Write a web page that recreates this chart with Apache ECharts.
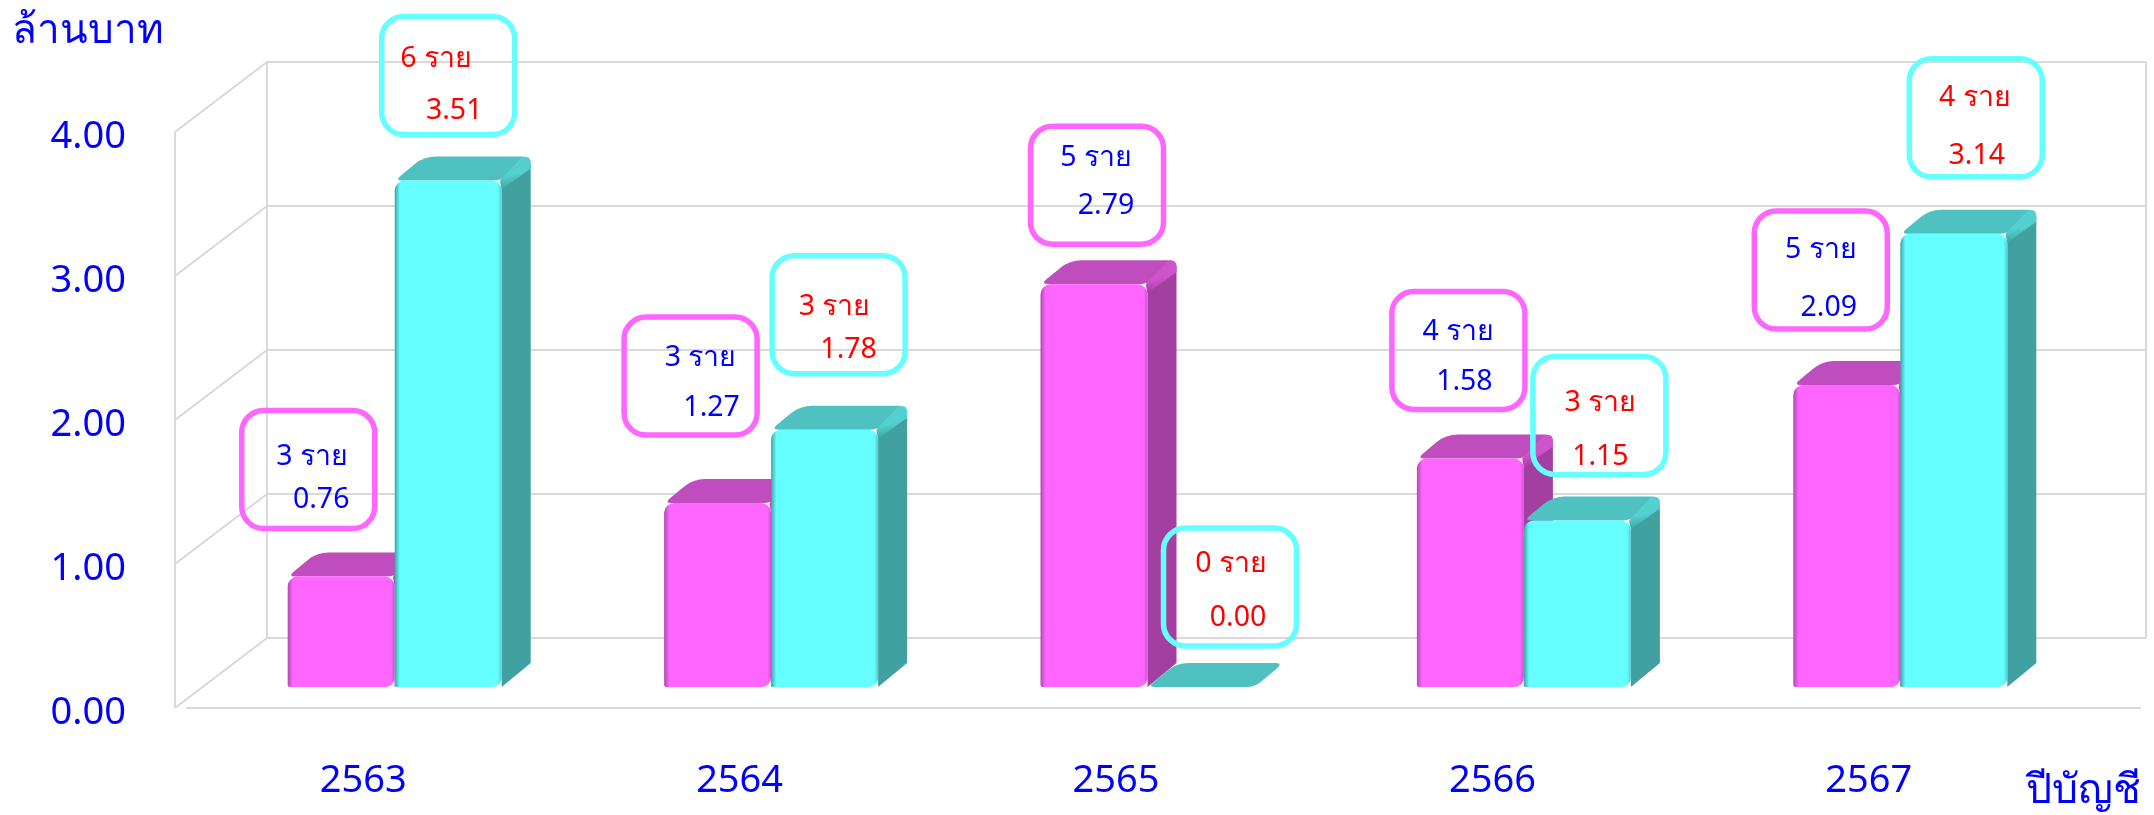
<!DOCTYPE html>
<html>
<head>
<meta charset="utf-8">
<style>html,body{margin:0;padding:0;background:#fff}#c{width:2154px;height:815px}</style>
<script src="https://cdn.jsdelivr.net/npm/echarts@6/dist/echarts.min.js"></script>
</head>
<body>
<div id="c"></div>
<script>
const years = ['2563','2564','2565','2566','2567'];
const pinkValues = [0.76,1.27,2.79,1.58,2.09];
const cyanValues = [3.51,1.78,0.00,1.15,3.14];
const pinkCounts = [3,3,5,4,5];
const cyanCounts = [6,3,0,3,4];
const ticks = [0,1,2,3,4];
const unitTitle = 'ล้านบาท';
const yearTitle = 'ปีบัญชี';

// layout of the hand-placed callouts, relative to the value's position on the axes
const pinkBox = [[-55,-129],[-49,-149],[-19,-121],[-34,-130],[-48,-137]];
const cyanBox = [[85,-127],[99,-137],[114,-121],[107,-127],[107,-138]];
const pinkText = [[[4,-13],[13,30]],[[10,-18],[21,32]],[[-1,-27],[9,21]],[[0,-19],[6,31]],[[0,-20],[8,38]]];
const cyanText = [[[-12,-17],[6,35]],[[-4,-8],[10,35]],[[1,-23],[8,31]],[[1,-13],[1,41]],[[-1,-20],[1,38]]];

const FONT = '"Noto Sans", "DejaVu Sans", sans-serif';
const BLUE = '#0000FF', RED = '#FF0000', PINK = '#FF66FF', CYAN = '#66FFFF', GRID = '#D9D9D9';
const WALL_DX = 92, WALL_DY = 70, RIGHT_EXTRA = 89;
const BAR_W = 107, BAR_SHIFT_X = 31.5, BAR_SHIFT_BASE = 21, BAR_SHIFT_TOP = 22, DEPTH_X = 29, DEPTH_Y = 24;

const PAL = {
  pink: {front: PINK, edgeL: '#B04AB0', edgeR: '#D052D0', top: '#BF4DBD', side: '#A33FA0', bevel: '#CE54CC'},
  cyan: {front: CYAN, edgeL: '#3FA5A5', edgeR: '#50CCCC', top: '#4FC1C1', side: '#41A1A1', bevel: '#54D0D0'}
};

function roundedPath(pts, radii) {
  // closed path through pts with a quadratic corner of the given radius at each one
  let d = '';
  const n = pts.length;
  for (let i = 0; i < n; i++) {
    const p = pts[i], a = pts[(i + n - 1) % n], b = pts[(i + 1) % n], r = radii[i];
    const la = Math.hypot(a[0]-p[0], a[1]-p[1]) || 1, lb = Math.hypot(b[0]-p[0], b[1]-p[1]) || 1;
    const ra = Math.min(r, la/2), rb = Math.min(r, lb/2);
    const s = [p[0]+(a[0]-p[0])*ra/la, p[1]+(a[1]-p[1])*ra/la];
    const e = [p[0]+(b[0]-p[0])*rb/lb, p[1]+(b[1]-p[1])*rb/lb];
    d += (i ? 'L' : 'M') + s[0].toFixed(1) + ' ' + s[1].toFixed(1) + 'Q' + p[0].toFixed(1) + ' ' + p[1].toFixed(1) + ' ' + e[0].toFixed(1) + ' ' + e[1].toFixed(1);
  }
  return d + 'Z';
}
function rpath(pts, radii, fill) {
  return {type: 'path', shape: {pathData: roundedPath(pts, radii)}, style: {fill}};
}

function barRenderer(kind, side) {
  const c = PAL[kind];
  return function (params, api) {
    const i = api.value(0), v = api.value(1);
    const p = api.coord([i, v]), base = api.coord([i, 0]);
    const cx = p[0] + BAR_SHIFT_X;
    const xl = side < 0 ? cx - BAR_W : cx, xr = xl + BAR_W;
    const solid = v > 0;
    const yb = base[1] - BAR_SHIFT_BASE, yt = solid ? p[1] - BAR_SHIFT_TOP : yb;
    const kids = [];
    if (solid) {
      kids.push(rpath([[xr,yt],[xr+DEPTH_X,yt-DEPTH_Y],[xr+DEPTH_X,yb-DEPTH_Y],[xr,yb]],[0,8,0,0],c.side));
    }
    kids.push(rpath([[xl,yt],[xl+DEPTH_X,yt-DEPTH_Y],[xr+DEPTH_X,yt-DEPTH_Y],[xr,yt]],[8,12,9,8],c.top));
    if (solid) {
      kids.push(rpath([[xr-2,yt],[xr+DEPTH_X-8,yt-DEPTH_Y],[xr+DEPTH_X,yt-DEPTH_Y+1],[xr+DEPTH_X,yt-DEPTH_Y+12],[xr,yt+9]],[2,3,7,0,0],
        {type:'linear',x:0,y:0,x2:0.2,y2:1,colorStops:[{offset:0,color:c.bevel},{offset:0.6,color:c.bevel},{offset:1,color:c.side}]}));
      kids.push({
        type: 'rect',
        shape: {x: xl, y: yt, width: BAR_W, height: yb - yt, r: [10,10,9,2]},
        style: {fill: {type:'linear',x:0,y:0,x2:1,y2:0,colorStops:[
          {offset:0,color:c.edgeL},{offset:0.05,color:c.front},{offset:0.965,color:c.front},{offset:1,color:c.edgeR}]}}
      });
    }
    return {type: 'group', children: kids};
  };
}

function calloutRenderer(boxes, texts, counts, stroke, color) {
  return function (params, api) {
    const i = api.value(0), v = api.value(1);
    const p = api.coord([i, v]);
    const bx = p[0] + boxes[i][0], by = p[1] + boxes[i][1];
    const w = 133, h = 118;
    const label = (t, off) => ({type: 'text', style: {
      text: t, x: bx + off[0], y: by + off[1], fill: color,
      fontSize: 28.5, fontFamily: FONT, align: 'center', verticalAlign: 'middle'}});
    return {type: 'group', children: [
      {type: 'rect', shape: {x: bx-w/2, y: by-h/2, width: w, height: h, r: 22},
       style: {fill: 'none', stroke, lineWidth: 5.5}},
      label(counts[i] + ' ราย', texts[i][0]),
      label(v.toFixed(2), texts[i][1])
    ]};
  };
}

function wallRenderer(params, api) {
  const v = api.value(0);
  const cs = params.coordSys;
  const y = api.coord([0, v])[1];
  const x0 = cs.x, x1 = cs.x + cs.width + RIGHT_EXTRA;
  const line = {stroke: GRID, lineWidth: 2, fill: 'none'};
  const kids = [{type: 'polyline', shape: {points: [[x0,y],[x0+WALL_DX,y-WALL_DY],[x1,y-WALL_DY]]}, style: line}];
  if (v === ticks[0]) {
    const top = api.coord([0, ticks[ticks.length-1]])[1];
    kids.push({type:'line',shape:{x1:x0,y1:y,x2:x0,y2:top},style:line});
    kids.push({type:'line',shape:{x1:x0+WALL_DX,y1:y-WALL_DY,x2:x0+WALL_DX,y2:top-WALL_DY},style:line});
    kids.push({type:'line',shape:{x1:x1,y1:y-WALL_DY,x2:x1,y2:top-WALL_DY},style:line});
    kids.push({type:'line',shape:{x1:x0+11,y1:y,x2:x1-5,y2:y},style:line});
  }
  return {type:'group',children:kids};
}

const chart = echarts.init(document.getElementById('c'), null, {renderer: 'canvas'});
const pairs = arr => arr.map((v, i) => [i, v]);
const custom = (name, renderItem, data, z) => ({
  name, type: 'custom', renderItem, data, z, silent: true, clip: false,
  encode: {x: 0, y: 1}
});
chart.setOption({
  animation: false,
  backgroundColor: '#fff',
  grid: {left: 175, right: 97, top: 132, bottom: 107, containLabel: false},
  xAxis: {type: 'category', data: years, axisLine: {show: false}, axisTick: {show: false},
    splitLine: {show: false},
    axisLabel: {color: BLUE, fontFamily: FONT, fontSize: 38, margin: 54}},
  yAxis: {type: 'value', min: 0, max: 4, interval: 1, axisLine: {show: false}, axisTick: {show: false},
    splitLine: {show: false},
    axisLabel: {margin: 49, formatter: v => '{t|' + v.toFixed(2) + '}',
      rich: {t: {color: BLUE, fontFamily: FONT, fontSize: 38, padding: [11, 0, 0, 0]}}}},
  graphic: [
    {type: 'text', left: 12, top: 11, style: {text: unitTitle, fill: BLUE, fontFamily: FONT, fontSize: 40.5}},
    {type: 'text', right: 13, top: 771, style: {text: yearTitle, fill: BLUE, fontFamily: FONT, fontSize: 41}}
  ],
  series: [
    {name: 'wall', type: 'custom', renderItem: wallRenderer, data: ticks.map(t => [t]), z: 1, silent: true, clip: false, encode: {y: 0}},
    custom('pink', barRenderer('pink', -1), pairs(pinkValues), 2),
    custom('cyan', barRenderer('cyan', 1), pairs(cyanValues), 3),
    custom('pinkLabel', calloutRenderer(pinkBox, pinkText, pinkCounts, PINK, BLUE), pairs(pinkValues), 4),
    custom('cyanLabel', calloutRenderer(cyanBox, cyanText, cyanCounts, CYAN, RED), pairs(cyanValues), 4)
  ]
});
</script>
</body>
</html>
